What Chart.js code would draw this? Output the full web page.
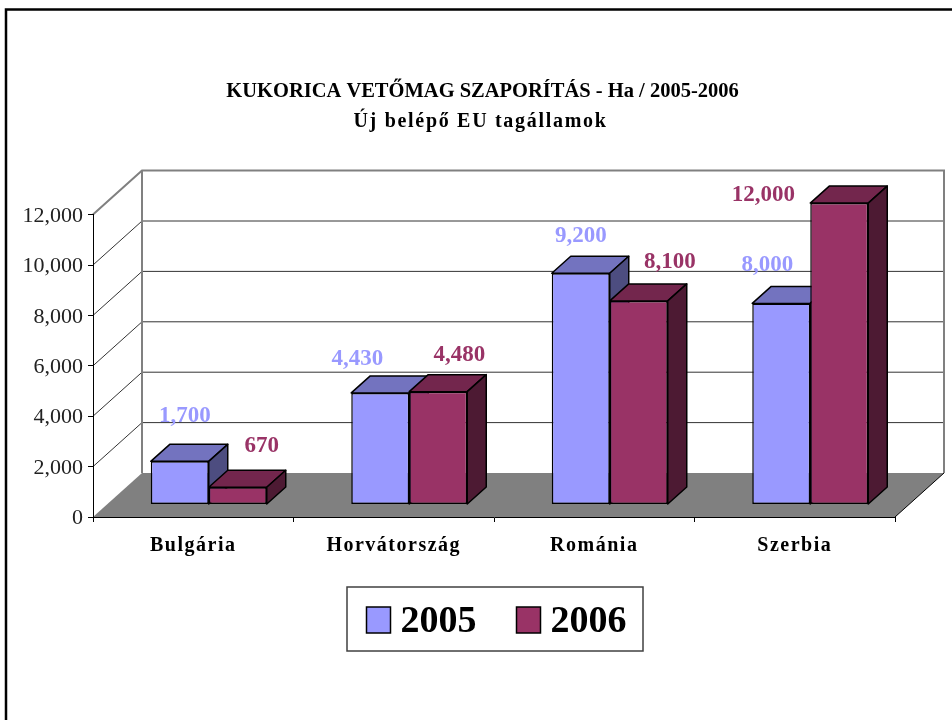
<!DOCTYPE html>
<html>
<head>
<meta charset="utf-8">
<title>Kukorica vetőmag szaporítás</title>
<script src="https://cdn.jsdelivr.net/npm/chart.js@4/dist/chart.umd.min.js"></script>
<style>
  html, body { margin: 0; padding: 0; background: #fff; }
  canvas { display: block; }
</style>
</head>
<body>
<canvas id="chart" width="952" height="720"></canvas>
<script>
const titleLine1 = 'KUKORICA VETŐMAG SZAPORÍTÁS - Ha / 2005-2006';
const titleLine2 = 'Új belépő EU tagállamok';
const categories = ['Bulgária', 'Horvátország', 'Románia', 'Szerbia'];
const seriesNames = ['2005', '2006'];
const values2005 = [1700, 4430, 9200, 8000];
const values2006 = [670, 4480, 8100, 12000];

const FONT = '"Liberation Serif", "Times New Roman", serif';

const colors = [
    { front: '#9999ff', top: '#7373bf', side: '#4d4d80' },
    { front: '#993366', top: '#73264d', side: '#4d1a33' }
];

// depth of the box (floor / walls) and of the bars, in pixels
const WALL = { dx: 49, dy: -44 };
const BAR = { dx: 19, dy: -17 };
const BAR_SHIFT_X = 15.5;

// labels were placed by hand in the original, not above the bars
const labelOffsets = [
    [[5, -45], [-23, -34], [0, -37], [-14, -38]],
    [[24, -41], [21, -37], [31, -39], [-76, -8]]
];

// chart.js has no letter spacing option, so wrap the draw call
function withSpacing(ctx, obj, method, spacing) {
    const orig = obj[method];
    obj[method] = function (...args) {
        ctx.save();
        ctx.letterSpacing = spacing;
        orig.apply(this, args);
        ctx.restore();
    };
}

const box3d = {
    id: 'box3d',
    afterLayout(chart) {
        // title and legend are centred on the box, not on the plot area
        const subtitle = chart.boxes.find(b => b.options && b.options.text === titleLine2);
        chart.titleBlock.left = 70;
        subtitle.left = 66;
        chart.legend.left = 98;
        withSpacing(chart.ctx, subtitle, 'draw', '1.7px');
        withSpacing(chart.ctx, chart.scales.x, 'drawLabels', '1.5px');
    },
    beforeDraw(chart) {
        const { ctx, scales: { x, y } } = chart;
        const x0 = x.left, x1 = x.right;
        const yBase = y.getPixelForValue(0);
        const yTop = y.getPixelForValue(12000);

        ctx.save();
        ctx.fillStyle = '#fff';
        ctx.fillRect(0, 0, chart.width, chart.height);

        // outer frame
        ctx.strokeStyle = '#000';
        ctx.lineWidth = 2.5;
        ctx.beginPath();
        ctx.moveTo(6, 720);
        ctx.lineTo(6, 9.5);
        ctx.lineTo(952, 9.5);
        ctx.stroke();

        // floor
        ctx.fillStyle = '#808080';
        ctx.beginPath();
        ctx.moveTo(x0, yBase);
        ctx.lineTo(x0 + WALL.dx, yBase + WALL.dy);
        ctx.lineTo(x1 + WALL.dx, yBase + WALL.dy);
        ctx.lineTo(x1, yBase);
        ctx.closePath();
        ctx.fill();

        ctx.strokeStyle = '#000';
        ctx.lineWidth = 1;
        ctx.beginPath();
        ctx.moveTo(x1, yBase);
        ctx.lineTo(x1 + WALL.dx, yBase + WALL.dy);
        ctx.stroke();

        // gridlines on the left and back wall
        y.ticks.forEach(t => {
            if (t.value === 0 || t.value === 12000) return;
            const py = y.getPixelForValue(t.value);
            ctx.strokeStyle = '#333';
            ctx.lineWidth = 1;
            ctx.beginPath();
            ctx.moveTo(x0, py);
            ctx.lineTo(x0 + WALL.dx, py + WALL.dy);
            ctx.lineTo(x1 + WALL.dx, py + WALL.dy);
            ctx.stroke();
        });

        // wall edges
        ctx.strokeStyle = '#808080';
        ctx.lineWidth = 2;
        ctx.beginPath();
        ctx.moveTo(x0, yTop);
        ctx.lineTo(x0 + WALL.dx, yTop + WALL.dy);
        ctx.lineTo(x1 + WALL.dx, yTop + WALL.dy);
        ctx.lineTo(x1 + WALL.dx, yBase + WALL.dy);
        ctx.moveTo(x0 + WALL.dx, yTop + WALL.dy);
        ctx.lineTo(x0 + WALL.dx, yBase + WALL.dy);
        ctx.stroke();
        ctx.restore();
    },
    beforeDatasetsDraw(chart) {
        const { ctx } = chart;
        ctx.save();
        ctx.translate(BAR_SHIFT_X, 0);
        ctx.strokeStyle = '#000';
        ctx.lineWidth = 1.5;
        ctx.lineJoin = 'round';
        // top and side faces, 2005 first so 2006 lies over it
        chart.data.datasets.forEach((ds, i) => {
            chart.getDatasetMeta(i).data.forEach(bar => {
                const l = bar.x - bar.width / 2;
                const r = bar.x + bar.width / 2;
                const t = bar.y, b = bar.base;
                ctx.fillStyle = colors[i].top;
                ctx.beginPath();
                ctx.moveTo(l, t);
                ctx.lineTo(l + BAR.dx, t + BAR.dy);
                ctx.lineTo(r + BAR.dx, t + BAR.dy);
                ctx.lineTo(r, t);
                ctx.closePath();
                ctx.fill();
                ctx.stroke();
                ctx.fillStyle = colors[i].side;
                ctx.beginPath();
                ctx.moveTo(r, t);
                ctx.lineTo(r + BAR.dx, t + BAR.dy);
                ctx.lineTo(r + BAR.dx, b + BAR.dy);
                ctx.lineTo(r, b);
                ctx.closePath();
                ctx.fill();
                ctx.stroke();
            });
        });
        // native bars are the front faces, same shift
    },
    afterDatasetsDraw(chart) {
        const { ctx } = chart;
        ctx.restore();

        // value labels
        ctx.save();
        ctx.font = 'bold 23px ' + FONT;
        ctx.textAlign = 'center';
        ctx.textBaseline = 'middle';
        chart.data.datasets.forEach((ds, i) => {
            ctx.fillStyle = colors[i].front;
            chart.getDatasetMeta(i).data.forEach((bar, j) => {
                const off = labelOffsets[i][j];
                ctx.fillText(ds.data[j].toLocaleString('en-US'),
                    bar.x + BAR_SHIFT_X + off[0], bar.y + off[1]);
            });
        });
        ctx.restore();
    },
    afterDraw(chart) {
        const { ctx, legend } = chart;
        ctx.save();
        // legend frame
        ctx.strokeStyle = '#404040';
        ctx.lineWidth = 1.5;
        ctx.strokeRect(347, 587, 296, 64);
        // wider swatches than the legend's own boxWidth allows next to this text
        ctx.strokeStyle = '#000';
        ctx.lineWidth = 1.5;
        legend.legendHitBoxes.forEach((hit, i) => {
            ctx.fillStyle = colors[i].front;
            const cy = hit.top + hit.height / 2;
            ctx.fillRect(hit.left, cy - 15, 24, 26);
            ctx.strokeRect(hit.left, cy - 15, 24, 26);
        });
        ctx.restore();
    }
};

new Chart(document.getElementById('chart'), {
    type: 'bar',
    data: {
        labels: categories,
        datasets: [
            { label: seriesNames[0], data: values2005, backgroundColor: colors[0].front },
            { label: seriesNames[1], data: values2006, backgroundColor: colors[1].front }
        ].map(ds => ({
            ...ds,
            yAxisID: 'yBars',
            borderColor: '#000',
            borderWidth: 1.5,
            borderSkipped: false,
            barPercentage: 1,
            categoryPercentage: 116 / 200.5,
            clip: false
        }))
    },
    options: {
        responsive: false,
        animation: false,
        layout: { padding: { left: 0, right: 57, top: 0, bottom: 69 } },
        scales: {
            x: {
                grid: { drawOnChartArea: false, color: '#000', tickLength: 5, offset: true },
                border: { color: '#000', width: 1 },
                ticks: { color: '#000', font: { family: FONT, size: 20, weight: 'bold' }, maxRotation: 0, padding: 12 },
                afterFit(scale) { scale.height = 46; }
            },
            y: {
                min: 0,
                max: 12000,
                grid: { drawOnChartArea: false, color: '#000', tickLength: 5 },
                border: { color: '#000', width: 1 },
                ticks: {
                    stepSize: 2000,
                    color: '#222',
                    padding: 5,
                    labelOffset: 1.5,
                    font: { family: FONT, size: 22 },
                    callback: v => v.toLocaleString('en-US')
                },
                afterFit(scale) { scale.width = 93; }
            },
            // bars stand 14px in front of the wall base and shrink a little with depth
            yBars: { display: false, min: -519, max: 11541 }
        },
        plugins: {
            title: {
                display: true,
                text: titleLine1,
                color: '#000',
                font: { family: FONT, size: 20.5, weight: 'bold' },
                padding: { top: 79, bottom: 6 }
            },
            subtitle: {
                display: true,
                text: titleLine2,
                color: '#000',
                font: { family: FONT, size: 20, weight: 'bold' },
                padding: { top: 0, bottom: 81 }
            },
            legend: {
                display: true,
                position: 'bottom',
                labels: {
                    color: '#000',
                    font: { family: FONT, size: 38, weight: 'bold' },
                    boxWidth: 15,
                    boxHeight: 26,
                    padding: 40,
                    // swatches are painted in afterDraw
                    generateLabels: chart => Chart.defaults.plugins.legend.labels.generateLabels(chart)
                        .map(item => ({ ...item, fillStyle: 'transparent', strokeStyle: 'transparent', lineWidth: 0 }))
                }
            },
            tooltip: { enabled: false }
        }
    },
    plugins: [box3d]
});
</script>
</body>
</html>
